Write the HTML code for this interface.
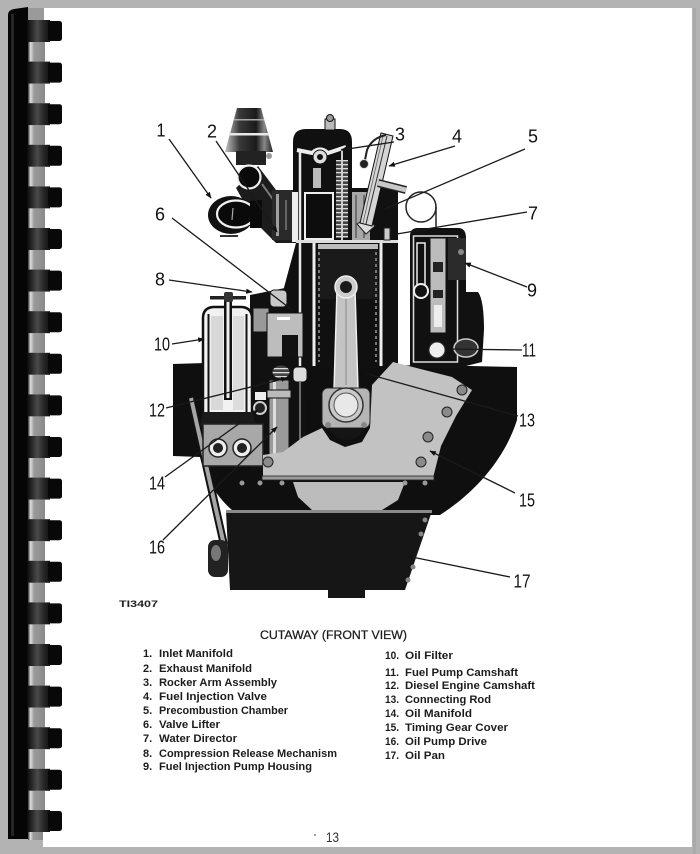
<!DOCTYPE html>
<html><head><meta charset="utf-8"><style>
html,body{margin:0;padding:0;background:#b3b3b3;}
svg{display:block;}
</style></head><body>
<svg width="700" height="854" viewBox="0 0 700 854" xmlns="http://www.w3.org/2000/svg">
<defs>
 <linearGradient id="coilD" x1="0" x2="1" y1="0" y2="0">
  <stop offset="0" stop-color="#0a0a0a"/><stop offset="0.45" stop-color="#4a4a4a"/><stop offset="0.7" stop-color="#2a2a2a"/><stop offset="1" stop-color="#111"/>
 </linearGradient>
 <linearGradient id="coilL" x1="0" x2="1" y1="0" y2="0">
  <stop offset="0" stop-color="#333"/><stop offset="0.15" stop-color="#e0e0e0"/><stop offset="0.35" stop-color="#9a9a9a"/><stop offset="1" stop-color="#8a8a8a"/>
 </linearGradient>
 <linearGradient id="cone" x1="0" x2="1" y1="0" y2="0">
  <stop offset="0" stop-color="#c4c4c4"/><stop offset="0.3" stop-color="#3a3a3a"/><stop offset="0.65" stop-color="#1a1a1a"/><stop offset="0.82" stop-color="#888"/><stop offset="1" stop-color="#222"/>
 </linearGradient>
 <pattern id="hatch" width="4" height="4" patternUnits="userSpaceOnUse">
  <rect width="4" height="4" fill="#444"/><rect y="0" width="4" height="1.3" fill="#ddd"/>
 </pattern>
 <marker id="ah" viewBox="0 0 10 10" refX="9" refY="5" markerWidth="5" markerHeight="5" orient="auto">
  <path d="M0,1 L10,5 L0,9 Z" fill="#111"/>
 </marker>
 <g id="coil">
  <rect x="27" y="0" width="23" height="22" fill="url(#coilD)"/>
  <rect x="48" y="1" width="14" height="20" rx="2.5" fill="#080808"/>
  <rect x="28" y="22" width="17" height="19.6" fill="url(#coilL)"/>
 </g>
</defs>

<!-- background and page -->
<rect x="0" y="0" width="700" height="854" fill="#b3b3b3"/>
<rect x="43" y="8" width="649" height="839" fill="#ffffff"/>
<rect x="693" y="8" width="3" height="846" fill="#a9a9a9"/>

<!-- binding -->
<rect x="28" y="8" width="16" height="12" fill="#9a9a9a"/>
<path d="M8,15 Q8,10 14,9 L28,7 L28,839 L8,839 Z" fill="#050505"/>
<rect x="11" y="14" width="3" height="822" fill="#262626"/>
<use href="#coil" y="20"/>
<use href="#coil" y="61.6"/>
<use href="#coil" y="103.2"/>
<use href="#coil" y="144.8"/>
<use href="#coil" y="186.4"/>
<use href="#coil" y="228"/>
<use href="#coil" y="269.6"/>
<use href="#coil" y="311.2"/>
<use href="#coil" y="352.8"/>
<use href="#coil" y="394.4"/>
<use href="#coil" y="436"/>
<use href="#coil" y="477.6"/>
<use href="#coil" y="519.2"/>
<use href="#coil" y="560.8"/>
<use href="#coil" y="602.4"/>
<use href="#coil" y="644"/>
<use href="#coil" y="685.6"/>
<use href="#coil" y="727.2"/>
<use href="#coil" y="768.8"/>
<rect x="27" y="810" width="23" height="22" fill="url(#coilD)"/>
<rect x="48" y="811" width="14" height="20" rx="2.5" fill="#080808"/>
<rect x="28" y="832" width="15" height="8" fill="url(#coilL)"/>

<!-- ============ ENGINE ============ -->
<!-- crankcase silhouette -->
<path d="M173,364 L205,363 L470,366 L517,367 L517,420 C507,452 482,488 440,515 L238,515 C218,500 205,478 200,457 L173,456 Z" fill="#0f0f0f"/>
<!-- oil pan -->
<path d="M226,511 L432,511 L405,590 L365,590 L365,598 L328,598 L328,590 L230,590 Z" fill="#161616"/>
<rect x="226" y="510" width="206" height="3" fill="#8a8a8a"/>
<circle cx="425" cy="520" r="2.5" fill="#888"/>
<circle cx="421" cy="534" r="2.5" fill="#888"/>
<circle cx="413" cy="567" r="2.5" fill="#888"/>
<circle cx="408" cy="580" r="2.5" fill="#888"/>
<!-- left pipe and blob -->
<line x1="191" y1="398" x2="224" y2="545" stroke="#111" stroke-width="8"/>
<line x1="191" y1="398" x2="224" y2="545" stroke="#a5a5a5" stroke-width="4"/>
<rect x="208" y="540" width="20" height="37" rx="7" fill="#222"/>
<ellipse cx="216" cy="553" rx="5" ry="8" fill="#777"/>

<!-- dark region left of block -->
<path d="M250,295 L300,285 L308,470 L250,470 Z" fill="#111"/>

<!-- exhaust stack and manifolds -->
<path d="M237,108 L261,108 L273,152 L225,152 Z" fill="url(#cone)"/>
<rect x="229" y="133" width="40" height="2.5" fill="#e8e8e8"/>
<rect x="234" y="119" width="30" height="1.5" fill="#aaa"/>
<rect x="236" y="151" width="30" height="14" fill="#222"/>
<circle cx="269" cy="156" r="3" fill="#999"/>
<path d="M236,188 L258,166 L300,222 L294,243 L276,243 L255,222 Z" fill="#1c1c1c"/>
<path d="M262,184 L292,226" stroke="#777" stroke-width="2"/>
<rect x="272" y="190" width="21" height="50" fill="#2a2a2a"/>
<rect x="276" y="194" width="3" height="42" fill="#a0a0a0"/>
<rect x="285" y="200" width="2" height="30" fill="#666"/>
<circle cx="249" cy="177" r="11.5" fill="#0a0a0a" stroke="#f0f0f0" stroke-width="2.2"/>
<ellipse cx="231" cy="215" rx="23" ry="19" fill="#111"/>
<ellipse cx="236" cy="214" rx="19" ry="13.5" fill="#0a0a0a" stroke="#f2f2f2" stroke-width="2.2"/>
<path d="M250,201 L262,200 L262,228 L250,228 Z" fill="#0a0a0a"/>
<line x1="233" y1="208" x2="232" y2="220" stroke="#aaa" stroke-width="1.2"/>
<rect x="220" y="235" width="18" height="2" fill="#333"/>

<!-- block / head -->
<path d="M293,142 Q293,129 306,129 L340,129 Q352,129 352,142 L352,188 L398,188 L398,368 L280,368 L282,295 L296,243 L293,243 Z" fill="#101010"/>
<rect x="292" y="192" width="6" height="50" fill="#eee"/>
<rect x="352" y="192" width="18" height="48" fill="#a8a8a8"/>
<line x1="356" y1="195" x2="356" y2="238" stroke="#333" stroke-width="1"/>
<line x1="364" y1="195" x2="364" y2="238" stroke="#333" stroke-width="1"/>
<!-- nut -->
<rect x="325" y="119" width="10" height="11" fill="#bbb" stroke="#111"/>
<circle cx="330" cy="118" r="3.5" fill="#999" stroke="#111"/>
<!-- rocker -->
<line x1="300" y1="150" x2="300" y2="366" stroke="#e8e8e8" stroke-width="2.5"/>
<path d="M297,150 L312,153 Q320,146 328,153 L346,147" stroke="#eee" stroke-width="4" fill="none"/>
<circle cx="320" cy="157" r="7" fill="#ddd" stroke="#111"/>
<circle cx="320" cy="157" r="3" fill="#111"/>
<rect x="336" y="160" width="12" height="78" fill="url(#hatch)"/>
<line x1="342" y1="148" x2="342" y2="242" stroke="#ccc" stroke-width="2"/>
<rect x="313" y="168" width="8" height="20" fill="#bbb"/>
<!-- valve chamber -->
<rect x="305" y="193" width="28" height="46" fill="#0d0d0d" stroke="#eee" stroke-width="2"/>
<!-- gasket / piston -->
<rect x="296" y="240" width="102" height="3" fill="#ddd"/>
<rect x="318" y="244" width="60" height="5" fill="#bdbdbd"/>
<rect x="318" y="249" width="60" height="50" fill="#1a1a1a"/>
<line x1="314" y1="243" x2="314" y2="366" stroke="#eee" stroke-width="3"/>
<line x1="381" y1="243" x2="381" y2="366" stroke="#eee" stroke-width="3"/>
<line x1="319" y1="252" x2="319" y2="362" stroke="#777" stroke-width="2" stroke-dasharray="3,3"/>
<line x1="376" y1="252" x2="376" y2="362" stroke="#777" stroke-width="2" stroke-dasharray="3,3"/>
<!-- prechamber, injector -->
<rect x="370" y="192" width="28" height="48" fill="#111"/>
<polygon points="357,224 366,218 375,226 366,234" fill="#ddd" stroke="#222"/>
<polygon points="381,133 393,136 372,226 360,223" fill="#d5d5d5" stroke="#111"/>
<line x1="387" y1="136" x2="366" y2="224" stroke="#333" stroke-width="1"/>
<line x1="383" y1="136" x2="363" y2="223" stroke="#666" stroke-width="0.8"/>
<path d="M386,135 Q372,138 367,150 L365,160" stroke="#222" stroke-width="2" fill="none"/>
<circle cx="364" cy="164" r="4.5" fill="#222" stroke="#ddd"/>
<path d="M378,183 L406,190" stroke="#222" stroke-width="8"/>
<path d="M378,183 L406,190" stroke="#c8c8c8" stroke-width="5"/>
<rect x="384" y="228" width="6" height="12" fill="#ccc" stroke="#222"/>
<!-- water director -->
<circle cx="421" cy="207" r="15" fill="#fff" stroke="#222" stroke-width="1.5"/>
<line x1="436" y1="207" x2="436" y2="229" stroke="#222" stroke-width="1.5"/>
<!-- rod -->
<polygon points="337,290 355,290 358,390 334,390" fill="#c4c4c4" stroke="#eee" stroke-width="1.5"/>
<line x1="346" y1="295" x2="346" y2="385" stroke="#888" stroke-width="1"/>
<circle cx="346" cy="287" r="11" fill="#ccc" stroke="#eee" stroke-width="1.5"/>
<circle cx="346" cy="287" r="6" fill="#1a1a1a"/>

<!-- injection pump housing -->
<path d="M410,236 Q410,228 418,228 L458,228 Q466,228 466,238 L466,368 L410,368 Z" fill="#111"/>
<rect x="413.5" y="236" width="44" height="126" fill="none" stroke="#ddd" stroke-width="1.5"/>
<rect x="417" y="243" width="8" height="42" fill="none" stroke="#eee" stroke-width="1.5"/>
<circle cx="421" cy="291" r="7" fill="#111" stroke="#eee" stroke-width="2"/>
<rect x="430" y="238" width="16" height="95" fill="#bcbcbc" stroke="#111"/>
<rect x="433" y="262" width="10" height="10" fill="#222"/>
<rect x="433" y="290" width="10" height="8" fill="#222"/>
<rect x="434" y="305" width="8" height="22" fill="#eee"/>
<rect x="448" y="238" width="18" height="42" fill="#2b2b2b"/>
<circle cx="461" cy="252" r="3" fill="#888"/>
<circle cx="437" cy="350" r="8" fill="#eee" stroke="#333"/>
<path d="M466,292 L478,292 Q484,300 484,330 L482,362 L466,366 Z" fill="#111"/>
<ellipse cx="466" cy="348" rx="12" ry="9" fill="#333" stroke="#ccc" stroke-width="1.5"/>

<!-- compression release etc. -->
<rect x="253" y="308" width="16" height="24" fill="#999" stroke="#111"/>
<rect x="270" y="290" width="17" height="17" rx="4" fill="#c8c8c8" stroke="#111"/>
<rect x="267" y="313" width="36" height="44" fill="#bdbdbd" stroke="#111"/>
<rect x="282" y="335" width="16" height="22" fill="#111"/>
<rect x="277" y="317" width="13" height="3" fill="#fff"/>

<!-- oil filter -->
<path d="M203,318 Q203,308 213,307 L242,307 Q252,308 252,318 L252,416 L203,416 Z" fill="#f2f2f2" stroke="#111" stroke-width="2.5"/>
<rect x="207.5" y="314" width="2" height="98" fill="#111"/>
<rect x="245.5" y="314" width="2" height="98" fill="#111"/>
<rect x="211" y="316" width="12" height="94" fill="#d8d8d8"/>
<rect x="233" y="316" width="11" height="94" fill="#dcdcdc"/>
<rect x="224" y="300" width="8" height="100" fill="#111"/>
<rect x="226.5" y="302" width="3" height="96" fill="#eee"/>
<rect x="210" y="296" width="36" height="3.5" fill="#222"/>
<rect x="224" y="292" width="9" height="10" rx="2" fill="#333"/>
<path d="M203,412 L252,412 L256,426 L200,426 Z" fill="#1a1a1a"/>
<!-- oil manifold -->
<rect x="203" y="424" width="60" height="42" fill="#a8a8a8" stroke="#222" stroke-width="1.5"/>
<circle cx="218" cy="448" r="9" fill="#eee" stroke="#222" stroke-width="1.5"/>
<circle cx="218" cy="448" r="5" fill="#222"/>
<circle cx="242" cy="448" r="9" fill="#eee" stroke="#222" stroke-width="1.5"/>
<circle cx="242" cy="448" r="5" fill="#222"/>
<rect x="255" y="392" width="11" height="8" fill="#eee"/>
<circle cx="260" cy="408" r="6" fill="#222" stroke="#ccc" stroke-width="2"/>
<!-- gear / camshaft / pipe -->
<ellipse cx="281" cy="372" rx="9" ry="7" fill="url(#hatch)" stroke="#111"/>
<rect x="293" y="367" width="14" height="15" rx="4" fill="#ddd" stroke="#111"/>
<rect x="269" y="380" width="20" height="88" fill="#9a9a9a" stroke="#111"/>
<rect x="273" y="382" width="3" height="84" fill="#ddd"/>
<rect x="267" y="390" width="24" height="8" fill="#bbb" stroke="#111"/>
<line x1="300" y1="382" x2="300" y2="453" stroke="#ccc" stroke-width="1"/>

<!-- timing gear cover -->
<path d="M263,478 L263,455 L283,452 L303,437 L322,428 L330,440 L345,447 L362,442 L370,428 L372,385 L393,362 L452,377 L472,390 L456,416 L441,446 L433,478 Z" fill="#c2c2c2"/>
<path d="M293,482 L405,482 L398,500 L382,510 L312,510 L298,497 Z" fill="#bcbcbc"/>
<rect x="262" y="476" width="172" height="4" fill="#9a9a9a" stroke="#222" stroke-width="0.8"/>
<circle cx="242" cy="483" r="2.5" fill="#999"/>
<circle cx="260" cy="483" r="2.5" fill="#999"/>
<circle cx="282" cy="483" r="2.5" fill="#999"/>
<circle cx="405" cy="483" r="2.5" fill="#999"/>
<circle cx="425" cy="483" r="2.5" fill="#999"/>
<circle cx="268" cy="462" r="5" fill="#8a8a8a" stroke="#222"/>
<circle cx="462" cy="390" r="5" fill="#8a8a8a" stroke="#222"/>
<circle cx="447" cy="412" r="5" fill="#8a8a8a" stroke="#222"/>
<circle cx="428" cy="437" r="5" fill="#8a8a8a" stroke="#222"/>
<circle cx="421" cy="462" r="5" fill="#8a8a8a" stroke="#222"/>
<!-- big end -->
<rect x="322" y="388" width="48" height="40" rx="6" fill="#b5b5b5" stroke="#222"/>
<circle cx="346" cy="405" r="17" fill="#c9c9c9" stroke="#333" stroke-width="1.5"/>
<circle cx="346" cy="405" r="12" fill="#e8e8e8" stroke="#555"/>
<path d="M328,428 Q346,452 366,428 Z" fill="#151515"/>
<circle cx="328" cy="425" r="3" fill="#888"/>
<circle cx="364" cy="425" r="3" fill="#888"/>

<!-- leader lines -->
<g stroke="#1a1a1a" stroke-width="1.3" fill="none" marker-end="url(#ah)">
 <line x1="169" y1="139" x2="211" y2="198"/>
 <line x1="216" y1="141" x2="277" y2="232"/>
 <line x1="394" y1="142" x2="341" y2="150"/>
 <line x1="455" y1="146" x2="389" y2="166"/>
 <line x1="525" y1="149" x2="380" y2="211"/>
 <line x1="172" y1="218" x2="296" y2="313"/>
 <line x1="527" y1="212" x2="391" y2="235"/>
 <line x1="169" y1="280" x2="252" y2="292"/>
 <line x1="527" y1="287" x2="465" y2="263"/>
 <line x1="172" y1="344" x2="204" y2="339"/>
 <line x1="522" y1="350" x2="446" y2="349"/>
 <line x1="166" y1="408" x2="287" y2="378"/>
 <line x1="518" y1="416" x2="364" y2="373"/>
 <line x1="165" y1="477" x2="258" y2="410"/>
 <line x1="515" y1="493" x2="430" y2="451"/>
 <line x1="163" y1="540" x2="277" y2="427"/>
 <line x1="510" y1="577" x2="407" y2="556"/>
</g>

<!-- labels -->
<g font-family="'Liberation Sans', sans-serif" font-size="18" fill="#111" text-anchor="middle" lengthAdjust="spacingAndGlyphs">
 <text x="161" y="136.5" textLength="9" lengthAdjust="spacingAndGlyphs">1</text>
 <text x="212" y="137.5" textLength="10" lengthAdjust="spacingAndGlyphs">2</text>
 <text x="400" y="140.5" textLength="10" lengthAdjust="spacingAndGlyphs">3</text>
 <text x="457" y="142.5" textLength="10" lengthAdjust="spacingAndGlyphs">4</text>
 <text x="533" y="142.5" textLength="10" lengthAdjust="spacingAndGlyphs">5</text>
 <text x="160" y="220.5" textLength="10" lengthAdjust="spacingAndGlyphs">6</text>
 <text x="533" y="219.5" textLength="10" lengthAdjust="spacingAndGlyphs">7</text>
 <text x="160" y="285.5" textLength="10" lengthAdjust="spacingAndGlyphs">8</text>
 <text x="532" y="296.5" textLength="10" lengthAdjust="spacingAndGlyphs">9</text>
 <text x="162" y="350.5" textLength="16" lengthAdjust="spacingAndGlyphs">10</text>
 <text x="529" y="356.5" textLength="14" lengthAdjust="spacingAndGlyphs">11</text>
 <text x="157" y="416.5" textLength="16" lengthAdjust="spacingAndGlyphs">12</text>
 <text x="527" y="426.5" textLength="16" lengthAdjust="spacingAndGlyphs">13</text>
 <text x="157" y="489.5" textLength="16" lengthAdjust="spacingAndGlyphs">14</text>
 <text x="527" y="506.5" textLength="16" lengthAdjust="spacingAndGlyphs">15</text>
 <text x="157" y="553.5" textLength="16" lengthAdjust="spacingAndGlyphs">16</text>
 <text x="522" y="587.5" textLength="17" lengthAdjust="spacingAndGlyphs">17</text>
</g>
<text x="119" y="607" font-family="'Liberation Sans', sans-serif" font-size="9" font-weight="bold" fill="#222" textLength="39" lengthAdjust="spacingAndGlyphs">TI3407</text>

<!-- caption and legend -->
<g font-family="'Liberation Sans', sans-serif" fill="#1c1c1c">
 <text x="260" y="639" font-size="11.5" textLength="147" lengthAdjust="spacingAndGlyphs" stroke="#1c1c1c" stroke-width="0.25">CUTAWAY (FRONT VIEW)</text>
 <g font-size="11" font-weight="bold">
  <text x="143" y="657">1.</text><text x="159" y="657" textLength="74" lengthAdjust="spacingAndGlyphs">Inlet Manifold</text>
  <text x="143" y="672">2.</text><text x="159" y="672" textLength="93" lengthAdjust="spacingAndGlyphs">Exhaust Manifold</text>
  <text x="143" y="686">3.</text><text x="159" y="686" textLength="118" lengthAdjust="spacingAndGlyphs">Rocker Arm Assembly</text>
  <text x="143" y="700">4.</text><text x="159" y="700" textLength="108" lengthAdjust="spacingAndGlyphs">Fuel Injection Valve</text>
  <text x="143" y="714">5.</text><text x="159" y="714" textLength="129" lengthAdjust="spacingAndGlyphs">Precombustion Chamber</text>
  <text x="143" y="728">6.</text><text x="159" y="728" textLength="61" lengthAdjust="spacingAndGlyphs">Valve Lifter</text>
  <text x="143" y="742">7.</text><text x="159" y="742" textLength="78" lengthAdjust="spacingAndGlyphs">Water Director</text>
  <text x="143" y="757">8.</text><text x="159" y="757" textLength="178" lengthAdjust="spacingAndGlyphs">Compression Release Mechanism</text>
  <text x="143" y="770">9.</text><text x="159" y="770" textLength="153" lengthAdjust="spacingAndGlyphs">Fuel Injection Pump Housing</text>

  <text x="385" y="659" textLength="14" lengthAdjust="spacingAndGlyphs">10.</text><text x="405" y="659" textLength="48" lengthAdjust="spacingAndGlyphs">Oil Filter</text>
  <text x="385" y="676" textLength="14" lengthAdjust="spacingAndGlyphs">11.</text><text x="405" y="676" textLength="113" lengthAdjust="spacingAndGlyphs">Fuel Pump Camshaft</text>
  <text x="385" y="689" textLength="14" lengthAdjust="spacingAndGlyphs">12.</text><text x="405" y="689" textLength="130" lengthAdjust="spacingAndGlyphs">Diesel Engine Camshaft</text>
  <text x="385" y="703" textLength="14" lengthAdjust="spacingAndGlyphs">13.</text><text x="405" y="703" textLength="86" lengthAdjust="spacingAndGlyphs">Connecting Rod</text>
  <text x="385" y="717" textLength="14" lengthAdjust="spacingAndGlyphs">14.</text><text x="405" y="717" textLength="67" lengthAdjust="spacingAndGlyphs">Oil Manifold</text>
  <text x="385" y="731" textLength="14" lengthAdjust="spacingAndGlyphs">15.</text><text x="405" y="731" textLength="103" lengthAdjust="spacingAndGlyphs">Timing Gear Cover</text>
  <text x="385" y="745" textLength="14" lengthAdjust="spacingAndGlyphs">16.</text><text x="405" y="745" textLength="82" lengthAdjust="spacingAndGlyphs">Oil Pump Drive</text>
  <text x="385" y="759" textLength="14" lengthAdjust="spacingAndGlyphs">17.</text><text x="405" y="759" textLength="40" lengthAdjust="spacingAndGlyphs">Oil Pan</text>
 </g>
 <circle cx="315" cy="835" r="1" fill="#888"/>
 <text x="326" y="842" font-size="14" fill="#333" textLength="13" lengthAdjust="spacingAndGlyphs">13</text>
</g>
</svg>
</body></html>
